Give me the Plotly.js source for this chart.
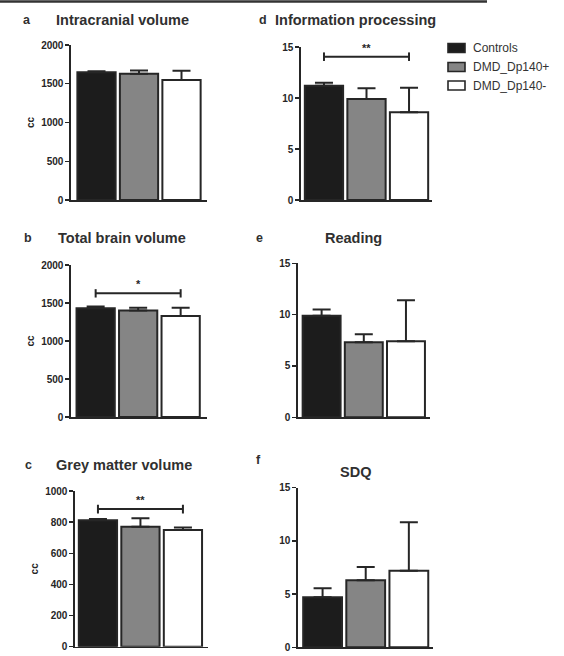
<!DOCTYPE html>
<html>
<head>
<meta charset="utf-8">
<script src="https://cdn.plot.ly/plotly-3.0.1.min.js"></script>
<style>html,body{margin:0;padding:0;background:#fff;}#chart{width:564px;height:656px;}</style>
</head>
<body>
<div id="chart"></div>
<script>
// ---- data ----
const groups = ['Controls', 'DMD_Dp140+', 'DMD_Dp140-'];
const intracranialVolume = [1650, 1630, 1550];
const intracranialErr = [12, 40, 118];
const totalBrainVolume = [1430, 1400, 1330];
const totalBrainErr = [25, 38, 108];
const greyMatterVolume = [812, 770, 750];
const greyMatterErr = [8, 55, 15];
const infoProcessing = [11.2, 9.9, 8.6];
const infoProcessingErr = [0.3, 1.05, 2.4];
const reading = [9.9, 7.3, 7.4];
const readingErr = [0.6, 0.8, 4.0];
const sdq = [4.7, 6.3, 7.2];
const sdqErr = [0.85, 1.25, 4.55];
const panelTitles = ['Intracranial volume', 'Total brain volume', 'Grey matter volume',
                     'Information processing', 'Reading', 'SDQ'];
const panelLetters = ['a', 'b', 'c', 'd', 'e', 'f'];
const yTitle = 'cc';
const sigLabels = {b: '*', c: '**', d: '**'};

// ---- styles ----
const W = 564, H = 656;
const fillColors = ['#1c1c1c', '#858585', '#ffffff'];
const ink = '#262626';
const FONT = 'Liberation Sans, Arial, sans-serif';
const px = v => v / W;
const py = v => 1 - v / H;

const panels = [
  {id: '',  vals: intracranialVolume, err: intracranialErr, x: [71, 207], y: [45, 200], yr: [0, 2000], dt: 500, xr: [-0.6, 2.6], ytitle: true},
  {id: '2', vals: totalBrainVolume, err: totalBrainErr, x: [71, 207], y: [265, 417], yr: [0, 2000], dt: 500, xr: [-0.58, 2.62], ytitle: true},
  {id: '3', vals: greyMatterVolume, err: greyMatterErr, x: [75, 208], y: [491, 646.7], yr: [0, 1000], dt: 200, xr: [-0.54, 2.59], ytitle: true},
  {id: '4', vals: infoProcessing, err: infoProcessingErr, x: [301, 432], y: [47, 200], yr: [0, 15], dt: 5, xr: [-0.54, 2.54], ytitle: false},
  {id: '5', vals: reading, err: readingErr, x: [298, 430], y: [263.3, 417.3], yr: [0, 15], dt: 5, xr: [-0.56, 2.57], ytitle: false},
  {id: '6', vals: sdq, err: sdqErr, x: [298, 433], y: [487.7, 647.3], yr: [0, 15], dt: 5, xr: [-0.57, 2.56], ytitle: false}
];

const data = [];
const layout = {
  width: W, height: H,
  margin: {l: 0, r: 0, t: 0, b: 0},
  paper_bgcolor: '#fff', plot_bgcolor: '#fff',
  showlegend: false,
  font: {family: FONT, color: ink},
  annotations: [], shapes: []
};

panels.forEach(p => {
  data.push({
    type: 'bar', x: groups, y: p.vals,
    xaxis: 'x' + p.id, yaxis: 'y' + p.id,
    width: 0.9,
    marker: {color: fillColors, line: {color: ink, width: 2}},
    error_y: {type: 'data', symmetric: false, array: p.err, arrayminus: [0, 0, 0],
              color: ink, thickness: 2, width: 9},
    hoverinfo: 'x+y'
  });
  layout['xaxis' + p.id] = {
    domain: [px(p.x[0]), px(p.x[1])], anchor: 'y' + p.id,
    type: 'category', range: p.xr,
    showline: true, linecolor: ink, linewidth: 1.6,
    showticklabels: false, ticks: '', showgrid: false, zeroline: false, fixedrange: true
  };
  layout['yaxis' + p.id] = {
    domain: [py(p.y[1]), py(p.y[0])], anchor: 'x' + p.id,
    range: p.yr, dtick: p.dt, tick0: 0,
    showline: true, linecolor: ink, linewidth: 1.6,
    ticks: 'outside', ticklen: 4, tickwidth: 1.4, tickcolor: ink,
    tickfont: {family: FONT, size: 10, color: ink, weight: 'bold'},
    showgrid: false, zeroline: false, fixedrange: true,
    title: p.ytitle ? {text: yTitle, standoff: 4, font: {family: FONT, size: 10, color: ink, weight: 'bold'}} : {text: ''}
  };
});

// panel titles and letters
const titlePos = [[122, 20], [122, 238], [124, 465], [355, 20], [353, 238], [355, 472]];
const letterPos = [[27, 20], [28, 238], [28, 465], [263, 20], [259, 238], [258, 460]];
panelTitles.forEach((t, i) => {
  layout.annotations.push({text: '<b>' + t + '</b>', xref: 'paper', yref: 'paper',
    x: px(titlePos[i][0]), y: py(titlePos[i][1]), xanchor: 'center', yanchor: 'middle',
    showarrow: false, font: {family: FONT, size: 14.5, color: '#303030'}});
  layout.annotations.push({text: '<b>' + panelLetters[i] + '</b>', xref: 'paper', yref: 'paper',
    x: px(letterPos[i][0]), y: py(letterPos[i][1]), xanchor: 'center', yanchor: 'middle',
    showarrow: false, font: {family: FONT, size: 12.5, color: '#303030'}});
});

// significance brackets (Controls vs DMD_Dp140-)
const sig = [
  {id: '2', key: 'b', y: 1627, cap: 55, label: 1640},
  {id: '3', key: 'c', y: 884, cap: 28, label: 888},
  {id: '4', key: 'd', y: 14.05, cap: 0.42, label: 14.1}
];
sig.forEach(s => {
  const xr = 'x' + s.id, yr = 'y' + s.id;
  layout.shapes.push({type: 'line', xref: xr, yref: yr, x0: groups[0], x1: groups[2], y0: s.y, y1: s.y,
    line: {color: ink, width: 2}});
  [groups[0], groups[2]].forEach(g => layout.shapes.push({type: 'line', xref: xr, yref: yr,
    x0: g, x1: g, y0: s.y - s.cap, y1: s.y + s.cap, line: {color: ink, width: 2}}));
  layout.annotations.push({text: '<b>' + sigLabels[s.key] + '</b>', xref: xr, yref: yr,
    x: groups[1], y: s.label, xanchor: 'center', yanchor: 'bottom', showarrow: false,
    font: {family: FONT, size: 11, color: ink}});
});

// legend
const legY = [48, 67, 85.5];
groups.forEach((g, i) => {
  layout.shapes.push({type: 'rect', xref: 'paper', yref: 'paper',
    x0: px(448), x1: px(465), y0: py(legY[i] + 4.5), y1: py(legY[i] - 4.5),
    fillcolor: fillColors[i], line: {color: ink, width: 1.6}});
  layout.annotations.push({text: g, xref: 'paper', yref: 'paper', x: px(471), y: py(legY[i]),
    xanchor: 'left', yanchor: 'middle', showarrow: false,
    font: {family: FONT, size: 12, color: '#333'}});
});

// top rule
layout.shapes.push({type: 'line', xref: 'paper', yref: 'paper', x0: 0, x1: px(487),
  y0: py(1.5), y1: py(1.5), line: {color: '#333', width: 2.5}});

Plotly.newPlot('chart', data, layout, {displayModeBar: false, staticPlot: true});
</script>
</body>
</html>
